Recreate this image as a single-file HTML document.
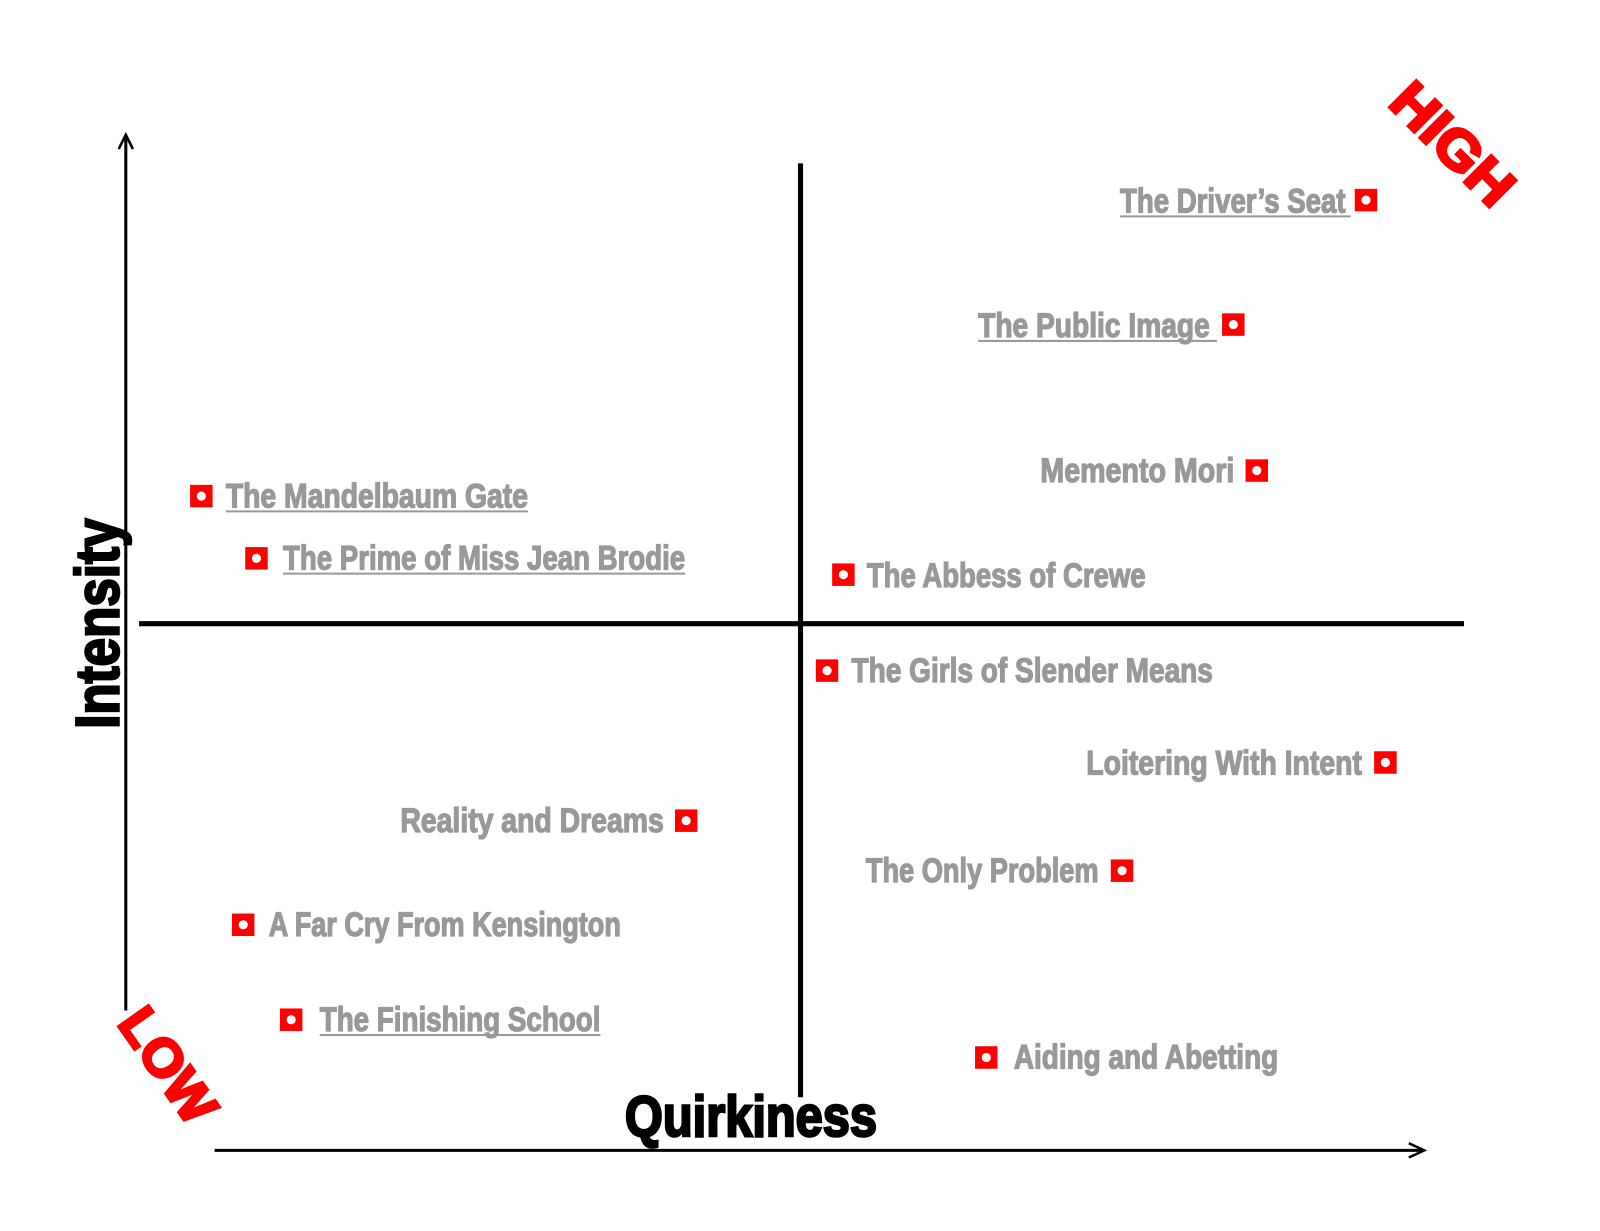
<!DOCTYPE html>
<html><head><meta charset="utf-8"><style>
html,body{margin:0;padding:0;background:#fff;overflow:hidden}
svg{display:block}
text{font-family:"Liberation Sans Narrow","Liberation Sans",sans-serif;font-weight:bold}
.l{fill:#999;stroke:#999;stroke-width:1.3;font-size:34px}
</style></head><body>
<svg width="1600" height="1231" viewBox="0 0 1567 1206" xmlns="http://www.w3.org/2000/svg">
<rect width="1567" height="1206" fill="#fff"/>
<line x1="123" y1="990" x2="123" y2="133" stroke="#000" stroke-width="3"/>
<polyline points="116,146 123,132 130,146" fill="none" stroke="#000" stroke-width="2.5"/>
<line x1="210" y1="1127" x2="1394" y2="1127" stroke="#000" stroke-width="3"/>
<polyline points="1380,1120 1395,1127 1380,1134" fill="none" stroke="#000" stroke-width="2.5"/>
<line x1="784" y1="160" x2="784" y2="1075" stroke="#000" stroke-width="5"/>
<line x1="136" y1="611" x2="1434" y2="611" stroke="#000" stroke-width="5"/>
<text transform="translate(116,714) rotate(-90)" font-size="60" textLength="206" lengthAdjust="spacingAndGlyphs" fill="#000" stroke="#000" stroke-width="2.5">Intensity</text>
<text x="612" y="1113" font-size="56" textLength="247" lengthAdjust="spacingAndGlyphs" fill="#000" stroke="#000" stroke-width="2.5">Quirkiness</text>
<text transform="translate(1420,144) rotate(45)" text-anchor="middle" dominant-baseline="middle" font-size="54" textLength="146" lengthAdjust="spacingAndGlyphs" fill="#f00" stroke="#f00" stroke-width="3">HIGH</text>
<text transform="translate(161,1046) rotate(55)" text-anchor="middle" dominant-baseline="middle" font-size="52" textLength="125" lengthAdjust="spacingAndGlyphs" fill="#f00" stroke="#f00" stroke-width="3">LOW</text>
<g fill="#f00">
<rect x="1327" y="185" width="22" height="22"/><rect x="1197" y="307" width="22" height="22"/>
<rect x="1220" y="450" width="22" height="22"/><rect x="815" y="552" width="22" height="22"/>
<rect x="186" y="475" width="22" height="22"/><rect x="240" y="536" width="22" height="22"/>
<rect x="799" y="646" width="22" height="22"/><rect x="1346" y="736" width="22" height="22"/>
<rect x="661" y="793" width="22" height="22"/><rect x="1088" y="842" width="22" height="22"/>
<rect x="227" y="895" width="22" height="22"/><rect x="274" y="988" width="22" height="22"/>
<rect x="955" y="1025" width="22" height="22"/>
</g>
<g fill="#fff">
<circle cx="1338" cy="196" r="4.5"/><circle cx="1208" cy="318" r="4.5"/>
<circle cx="1231" cy="461" r="4.5"/><circle cx="826" cy="563" r="4.5"/>
<circle cx="197" cy="486" r="4.5"/><circle cx="251" cy="547" r="4.5"/>
<circle cx="810" cy="657" r="4.5"/><circle cx="1357" cy="747" r="4.5"/>
<circle cx="672" cy="804" r="4.5"/><circle cx="1099" cy="853" r="4.5"/>
<circle cx="238" cy="906" r="4.5"/><circle cx="285" cy="999" r="4.5"/>
<circle cx="966" cy="1036" r="4.5"/>
</g>
<text class="l" x="1097" y="208" textLength="221" lengthAdjust="spacingAndGlyphs">The Driver’s Seat</text>
<text class="l" x="958" y="330" textLength="227" lengthAdjust="spacingAndGlyphs">The Public Image</text>
<text class="l" x="1019" y="472" textLength="190" lengthAdjust="spacingAndGlyphs">Memento Mori</text>
<text class="l" x="849" y="575" textLength="273" lengthAdjust="spacingAndGlyphs">The Abbess of Crewe</text>
<text class="l" x="221" y="497" textLength="296" lengthAdjust="spacingAndGlyphs">The Mandelbaum Gate</text>
<text class="l" x="277" y="558" textLength="394" lengthAdjust="spacingAndGlyphs">The Prime of Miss Jean Brodie</text>
<text class="l" x="834" y="668" textLength="354" lengthAdjust="spacingAndGlyphs">The Girls of Slender Means</text>
<text class="l" x="1064" y="759" textLength="270" lengthAdjust="spacingAndGlyphs">Loitering With Intent</text>
<text class="l" x="392" y="815" textLength="258" lengthAdjust="spacingAndGlyphs">Reality and Dreams</text>
<text class="l" x="848" y="864" textLength="228" lengthAdjust="spacingAndGlyphs">The Only Problem</text>
<text class="l" x="263" y="917" textLength="345" lengthAdjust="spacingAndGlyphs">A Far Cry From Kensington</text>
<text class="l" x="313" y="1010" textLength="275" lengthAdjust="spacingAndGlyphs">The Finishing School</text>
<text class="l" x="993" y="1047" textLength="259" lengthAdjust="spacingAndGlyphs">Aiding and Abetting</text>
<g stroke="#999" stroke-width="2">
<line x1="1097" y1="212" x2="1323" y2="212"/>
<line x1="958" y1="334" x2="1192" y2="334"/>
<line x1="221" y1="501" x2="517" y2="501"/>
<line x1="277" y1="562" x2="671" y2="562"/>
<line x1="313" y1="1014" x2="588" y2="1014"/>
</g>
</svg>
</body></html>
